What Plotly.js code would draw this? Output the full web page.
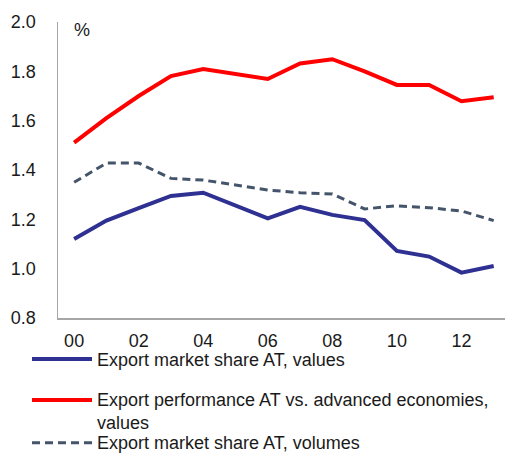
<!DOCTYPE html>
<html>
<head>
<meta charset="utf-8">
<script src="https://cdn.plot.ly/plotly-3.0.1.min.js"></script>
<style>html,body{margin:0;padding:0;background:#fff;}#chart{width:505px;height:454px;}</style>
</head>
<body>
<div id="chart"></div>
<script>
var years = ['00','01','02','03','04','05','06','07','08','09','10','11','12','13'];
var shareValues = [1.12, 1.195, 1.245, 1.295, 1.308, 1.255, 1.204, 1.251, 1.218, 1.197, 1.072, 1.049, 0.984, 1.011];
var perfValues = [1.511, 1.61, 1.70, 1.781, 1.809, 1.79, 1.769, 1.832, 1.849, 1.80, 1.745, 1.745, 1.679, 1.695];
var shareVolumes = [1.35, 1.428, 1.428, 1.366, 1.359, 1.34, 1.319, 1.308, 1.303, 1.242, 1.255, 1.247, 1.234, 1.195];
var seriesNames = ['Export market share AT, values', 'Export performance AT vs. advanced economies,<br>values', 'Export market share AT, volumes'];
var yTicks = [0.8, 1.0, 1.2, 1.4, 1.6, 1.8, 2.0];

var colors = ['#2E3192', '#FF0000', '#44546A'];
var font = 'Liberation Sans, Arial, sans-serif';
var fs = 18;

var traces = [
  {x: years, y: shareValues, name: seriesNames[0], type: 'scatter', mode: 'lines', line: {color: colors[0], width: 4}, showlegend: false},
  {x: years, y: perfValues, name: seriesNames[1], type: 'scatter', mode: 'lines', line: {color: colors[1], width: 4}, showlegend: false},
  {x: years, y: shareVolumes, name: seriesNames[2], type: 'scatter', mode: 'lines', line: {color: colors[2], width: 3, dash: '8px,5px'}, showlegend: false}
];

var W = 447, H = 296, L = 58, T = 22;
function px(x){ return (x - L) / W; }
function py(y){ return (T + H - y) / H; }

var legendY = [359, 400, 442.7];
var legendTextY = [359.5, 411.3, 442.7];
var shapes = [], annotations = [];
for (var i = 0; i < 3; i++) {
  shapes.push({type: 'line', xref: 'paper', yref: 'paper', x0: px(32), x1: px(92), y0: py(legendY[i]), y1: py(legendY[i]),
    line: {color: colors[i], width: i === 2 ? 3 : 4, dash: i === 2 ? '8px,5px' : 'solid'}});
  annotations.push({xref: 'paper', yref: 'paper', x: px(96), y: py(legendTextY[i]), xanchor: 'left', yanchor: 'middle',
    align: 'left', showarrow: false, borderpad: 0, text: seriesNames[i], font: {family: font, size: fs, color: '#1a1a1a'}});
}
annotations.push({xref: 'paper', yref: 'paper', x: px(82), y: py(30), xanchor: 'center', yanchor: 'middle',
  showarrow: false, borderpad: 0, text: '%', font: {family: font, size: fs, color: '#1a1a1a'}});

var layout = {
  width: 505, height: 454,
  margin: {l: L, r: 0, t: T, b: 454 - T - H, pad: 0},
  paper_bgcolor: '#fff', plot_bgcolor: '#fff',
  font: {family: font, size: fs, color: '#1a1a1a'},
  showlegend: false,
  xaxis: {type: 'category', range: [-0.5, 13.35], dtick: 2, showgrid: false, zeroline: false,
    showline: true, linecolor: '#A6A6A6', linewidth: 1.5, ticks: '', ticklabelstandoff: 6,
    tickfont: {family: font, size: fs, color: '#1a1a1a'}},
  yaxis: {range: [0.8, 2.0], tickvals: yTicks, tickformat: '.1f', showgrid: false, zeroline: false,
    showline: true, linecolor: '#A6A6A6', linewidth: 1.5, ticks: '', ticklabelstandoff: 17,
    tickfont: {family: font, size: fs, color: '#1a1a1a'}},
  shapes: shapes,
  annotations: annotations
};

Plotly.newPlot('chart', traces, layout, {displayModeBar: false, staticPlot: true});
</script>
</body>
</html>
